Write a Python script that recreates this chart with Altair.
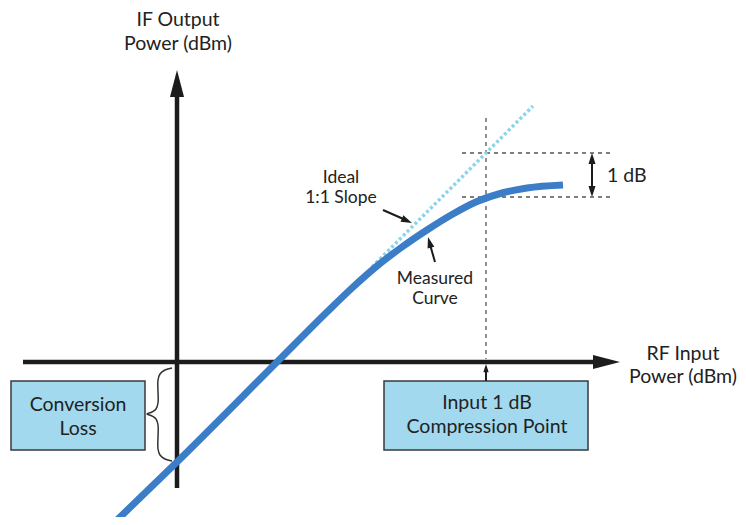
import math
import altair as alt
import pandas as pd

# ---- measured curve (RF input vs IF output, diagram units) ----
rf_in = [-62, 0, 100, 150, 175, 200, 225, 250, 275, 300, 325, 350, 386]
if_out = [-160, -100, 0, 50, 74, 96, 115, 132, 147.5, 160.5, 169, 174, 177]

# ideal 1:1 slope segment
ideal_x = [195, 356]
ideal_y = [95, 256]

# compression point
p1db_x = 309
ideal_at_p1db = 209
meas_at_p1db = 165

# brace for conversion loss
brace_x = [-5, -12, -17, -19, -19, -21, -25, -30, -25, -21, -19, -19, -17, -12, -5]
brace_y = [-6, -8, -12, -18, -41, -47, -50, -52, -54, -57, -63, -87, -93, -97, -99]

# text labels (main, larger)
label_text = ["IF Output", "Power (dBm)", "RF Input", "Power (dBm)",
              "Conversion", "Loss", "Input 1 dB", "Compression Point"]
label_x = [1, 1, 506, 506, -99, -99, 310, 310]
label_y = [342, 318, 8, -15, -43, -67, -41, -65]

# callout labels
note_text = ["Ideal", "1:1 Slope", "Measured", "Curve"]
note_x = [164, 164, 258, 258]
note_y = [184, 164, 83.5, 63.5]

FONT = "Lato"
XS = alt.Scale(domain=[-169, 561], nice=False, zero=False)
YS = alt.Scale(domain=[-155, 354], nice=False, zero=False)


def X(f="x"):
    return alt.X(f"{f}:Q", scale=XS, axis=None)


def Y(f="y"):
    return alt.Y(f"{f}:Q", scale=YS, axis=None)


def seg_layer(rows, **mark):
    df = pd.DataFrame(rows, columns=["x", "y", "x2", "y2"])
    return alt.Chart(df).mark_rule(**mark).encode(
        x=X(), y=Y(), x2="x2:Q", y2="y2:Q")


# main axes (rules)
axes = seg_layer([[0, -126, 0, 272], [-154, 0, 421, 0]],
                 color="#1c1c1c", strokeWidth=4.5)

# dashed guide lines
guides = seg_layer([[p1db_x, 244, p1db_x, 3],
                    [285, ideal_at_p1db, 435, ideal_at_p1db],
                    [285, meas_at_p1db, 435, meas_at_p1db]],
                   color="#555555", strokeWidth=1.3, strokeDash=[4, 4])

# thin pointer arrow shafts
ptr_rows = [[206, 152, 231, 141],      # ideal pointer
            [258, 100, 252, 121],      # measured pointer
            [415, 203, 415, 171],      # 1 dB
            [p1db_x, -19, p1db_x, -6]]  # compression box arrow
shafts = seg_layer(ptr_rows, color="#1c1c1c", strokeWidth=2)

# arrowheads (tip at point)
BIG = "M0,0 L-0.52,2 L0.52,2 Z"
SMALL = "M0,0 L-0.64,2 L0.64,2 Z"


def ang(x0, y0, x1, y1):
    a = math.degrees(math.atan2(x1 - x0, y1 - y0))
    return a % 360


heads = pd.DataFrame([
    [0, 292, 0, BIG, 729],
    [443, 0, 90, BIG, 729],
    [235, 139, ang(206, 152, 235, 139), SMALL, 121],
    [251, 125, ang(258, 100, 251, 125), SMALL, 121],
    [415, 209, 0, SMALL, 121],
    [415, 165, 180, SMALL, 121],
    [p1db_x, -2, 0, SMALL, 70],
], columns=["x", "y", "angle", "shape", "size"])
head_layer = alt.Chart(heads).mark_point(filled=True, opacity=1, color="#1c1c1c",
                                         strokeWidth=0).encode(
    x=X(), y=Y(),
    angle=alt.Angle("angle:Q", scale=None),
    shape=alt.Shape("shape:N", scale=None),
    size=alt.Size("size:Q", scale=None))

# ideal dotted line
ideal_df = pd.DataFrame({"x": ideal_x, "y": ideal_y})
ideal = alt.Chart(ideal_df).mark_line(color="#8fd3e8", strokeWidth=3.5,
                                      strokeDash=[3, 2.5]).encode(x=X(), y=Y())

# measured curve
curve_df = pd.DataFrame({"x": rf_in, "y": if_out})
curve = alt.Chart(curve_df).mark_line(color="#3c7dc8", strokeWidth=7,
                                      interpolate="monotone").encode(x=X(), y=Y())

# boxes
boxes_df = pd.DataFrame({"x": [-166, 207], "x2": [-32, 411],
                         "y": [-19, -19], "y2": [-88, -88]})
boxes = alt.Chart(boxes_df).mark_rect(fill="#a2d9ee", stroke="#3a3a3a",
                                      strokeWidth=1.5).encode(
    x=X(), y=Y(), x2="x2:Q", y2="y2:Q")

# brace
brace_df = pd.DataFrame({"x": brace_x, "y": brace_y, "o": list(range(len(brace_x)))})
brace = alt.Chart(brace_df).mark_line(color="#333333", strokeWidth=1.5,
                                      interpolate="catmull-rom").encode(
    x=X(), y=Y(), order="o:Q")

# labels
lab_df = pd.DataFrame({"t": label_text, "x": label_x, "y": label_y})
labels = alt.Chart(lab_df).mark_text(font=FONT, fontSize=19.5, color="#222222",
                                     align="center", baseline="middle").encode(
    x=X(), y=Y(), text="t:N")
note_df = pd.DataFrame({"t": note_text, "x": note_x, "y": note_y})
notes = alt.Chart(note_df).mark_text(font=FONT, fontSize=17.5, color="#222222",
                                     align="center", baseline="middle").encode(
    x=X(), y=Y(), text="t:N")
db_lab = alt.Chart(pd.DataFrame({"t": ["1 dB"], "x": [430], "y": [186]})).mark_text(
    font=FONT, fontSize=19.5, color="#222222", align="left", baseline="middle").encode(
    x=X(), y=Y(), text="t:N")

chart = alt.layer(guides, axes, boxes, brace, ideal, curve, shafts, head_layer,
                  labels, notes, db_lab).properties(
    width=730, height=509, padding=0, autosize="none"
).configure_view(stroke=None)

chart.save("out.html", embed_options={"renderer": "svg", "actions": False})
